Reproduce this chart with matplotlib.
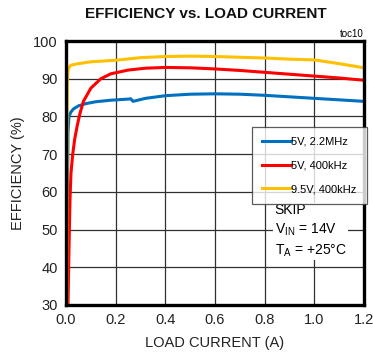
import matplotlib
matplotlib.use('Agg')
import matplotlib.pyplot as plt

plt.rcParams['font.family'] = ['Liberation Sans', 'DejaVu Sans']

# efficiency curves, load current in A, efficiency in %
i_blue = [0.004, 0.006, 0.008, 0.012, 0.02, 0.03, 0.05, 0.08, 0.12, 0.18, 0.25, 0.26, 0.27, 0.32, 0.4, 0.5, 0.6, 0.7, 0.8, 0.9, 1.0, 1.1, 1.2]
eff_blue = [30, 60, 76, 80, 81.2, 82.0, 82.8, 83.4, 83.9, 84.3, 84.6, 84.7, 84.0, 84.8, 85.5, 85.9, 86.0, 85.9, 85.6, 85.2, 84.8, 84.4, 84.0]

i_red = [0.008, 0.012, 0.016, 0.02, 0.027, 0.035, 0.045, 0.055, 0.07, 0.1, 0.14, 0.18, 0.25, 0.32, 0.4, 0.5, 0.6, 0.7, 0.8, 0.9, 1.0, 1.1, 1.2]
eff_red = [30, 45, 58, 65, 70, 74, 77.5, 80.5, 84, 87.5, 90, 91.3, 92.3, 92.8, 93.0, 92.9, 92.6, 92.2, 91.7, 91.2, 90.7, 90.2, 89.6]

i_yellow = [0.003, 0.004, 0.005, 0.007, 0.01, 0.02, 0.05, 0.1, 0.2, 0.3, 0.4, 0.5, 0.6, 0.7, 0.8, 0.9, 1.0, 1.1, 1.2]
eff_yellow = [30, 70, 88, 91.5, 92.8, 93.6, 94.0, 94.5, 94.9, 95.6, 95.9, 96.0, 95.9, 95.7, 95.5, 95.2, 95.0, 94.0, 92.9]

labels = ['5V, 2.2MHz', '5V, 400kHz', '9.5V, 400kHz']
colors = ['#0070c0', '#ff0000', '#ffc000']

x_ticks = [0.0, 0.2, 0.4, 0.6, 0.8, 1.0, 1.2]
y_ticks = [30, 40, 50, 60, 70, 80, 90, 100]

fig = plt.figure(figsize=(3.73, 3.57), dpi=100)
ax = fig.add_axes([0.177, 0.146, 0.799, 0.739])

for x, y, lab, c in zip([i_blue, i_red, i_yellow], [eff_blue, eff_red, eff_yellow], labels, colors):
    ax.plot(x, y, color=c, linewidth=2.2, label=lab, zorder=3)

ax.set_xlim(0, 1.2)
ax.set_ylim(30, 100)
ax.set_xticks(x_ticks)
ax.set_yticks(y_ticks)
ax.set_xticklabels([f'{t:.1f}' for t in x_ticks])
ax.grid(True, color='#303030', linewidth=0.9)
ax.tick_params(length=0, labelsize=10.5, pad=6, colors='#222222')
for s in ax.spines.values():
    s.set_linewidth(2.4)
    s.set_color('black')
    s.set_zorder(5)

ax.set_xlabel('LOAD CURRENT (A)', fontsize=10.5, labelpad=6, color='#222222')
ax.set_ylabel('EFFICIENCY (%)', fontsize=10.5, labelpad=6, color='#222222')

leg = ax.legend(loc='upper left', bbox_to_anchor=(0.625, 0.676), fontsize=8,
                frameon=True, fancybox=False, handlelength=2.6, handletextpad=0.0,
                labelspacing=1.25, borderpad=0.9, borderaxespad=0)
leg.get_frame().set_edgecolor('#333333')
leg.get_frame().set_linewidth(0.9)
for line in leg.get_lines():
    line.set_linewidth(2.2)

ax.text(0.7, 0.28, 'SKIP\n$\\mathregular{V_{IN}}$ = 14V\n$\\mathregular{T_A}$ = +25°C',
        transform=ax.transAxes, fontsize=10, va='center', ha='left', linespacing=1.35,
        bbox=dict(facecolor='white', edgecolor='none', pad=1), zorder=4)

fig.text(0.551, 0.962, 'EFFICIENCY vs. LOAD CURRENT', ha='center', va='center',
         fontsize=11, fontweight='bold', color='#111111')
fig.text(0.975, 0.905, 'toc10', ha='right', va='center', fontsize=7)

fig.savefig('out.png', dpi=100)
